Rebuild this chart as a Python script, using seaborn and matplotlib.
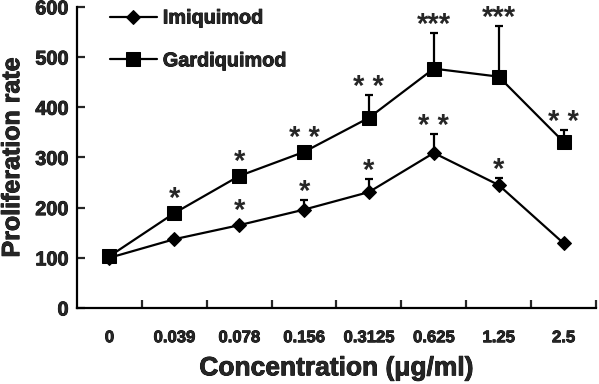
import matplotlib
matplotlib.use("Agg")
import matplotlib.pyplot as plt
import matplotlib.patheffects as pe
import seaborn as sns
import pandas as pd
import numpy as np

concentrations = ["0", "0.039", "0.078", "0.156", "0.3125", "0.625", "1.25", "2.5"]
imiquimod = [100, 137, 165, 196, 231, 309, 245, 129]
imiquimod_err = [0, 4, 4, 19, 26, 38, 15, 4]
gardiquimod = [103, 189, 263, 311, 379, 477, 461, 331]
gardiquimod_err = [0, 4, 4, 6, 45, 72, 101, 23]
imiquimod_stars = ["", "", "*", "*", "*", "* *", "*", ""]
gardiquimod_stars = ["", "*", "*", "* *", "* *", "***", "***", "* *"]
yticks = [0, 100, 200, 300, 400, 500, 600]

sns.set_theme(style="ticks")
plt.rcParams['font.family'] = ['Liberation Sans', 'DejaVu Sans']
plt.rcParams['font.weight'] = 'bold'

heavy = [pe.withStroke(linewidth=0.6, foreground='black')]

pos = np.arange(len(concentrations))
df = pd.DataFrame({
    "pos": np.concatenate([pos, pos]),
    "value": imiquimod + gardiquimod,
    "drug": ["Imiquimod"] * len(pos) + ["Gardiquimod"] * len(pos),
})

fig = plt.figure(figsize=(5.99, 3.84), dpi=100)
ax = fig.add_axes([0.1285, 0.198, 0.8665, 0.784])

for vals, errs in [(imiquimod, imiquimod_err), (gardiquimod, gardiquimod_err)]:
    ax.errorbar(pos, vals, yerr=[np.zeros(len(errs)), errs], fmt='none',
                ecolor='black', elinewidth=1.6, capsize=3, capthick=1.6, zorder=2)

sns.lineplot(data=df, x="pos", y="value", hue="drug", style="drug",
             markers={"Imiquimod": "D", "Gardiquimod": "s"}, dashes=False,
             palette={"Imiquimod": "black", "Gardiquimod": "black"},
             markersize=10, linewidth=1.6, markeredgecolor='black',
             ax=ax, zorder=3)
for line in ax.lines:
    if line.get_marker() == 'D':
        line.set_markersize(7.5)

for vals, errs, stars in [(imiquimod, imiquimod_err, imiquimod_stars),
                          (gardiquimod, gardiquimod_err, gardiquimod_stars)]:
    for p, v, e, s in zip(pos, vals, errs, stars):
        if s:
            ax.annotate(s, (p, v + max(e, 12)), xytext=(0, 0), textcoords='offset points',
                        ha='center', va='baseline', fontsize=21, fontweight='bold')

ax.set_xlim(-0.5, len(concentrations) - 0.5)
ax.set_ylim(0, 600)
ax.set_xticks(pos)
ax.set_xticklabels(concentrations, fontsize=12, fontweight='bold', path_effects=heavy)
ax.set_xticks(np.arange(0.5, len(concentrations), 1.0), minor=True)
ax.tick_params(axis='x', which='major', length=0, pad=16)
ax.tick_params(axis='x', which='minor', direction='in', length=6, width=1.6)
ax.set_yticks(yticks)
ax.set_yticklabels([str(t) for t in yticks], fontsize=14.3, fontweight='bold', path_effects=heavy)
ax.tick_params(axis='y', direction='in', length=6, width=1.6, pad=6)
for side in ['top', 'right']:
    ax.spines[side].set_visible(False)
for side in ['left', 'bottom']:
    ax.spines[side].set_linewidth(1.6)
    ax.spines[side].set_color('black')

ax.set_xlabel("Concentration (\u03bcg/ml)", fontsize=19, fontweight='bold', labelpad=8,
              path_effects=heavy)
ax.set_ylabel("Proliferation rate", fontsize=18, fontweight='bold', labelpad=8,
              path_effects=heavy)

handles, labels = ax.get_legend_handles_labels()
leg = ax.legend(handles, labels, loc='upper left', bbox_to_anchor=(0.056, 1.008),
                frameon=False, fontsize=14.3, handlelength=2.36, handletextpad=0.3,
                labelspacing=1.2, borderaxespad=0, borderpad=0.2)
for t in leg.get_texts():
    t.set_fontweight('bold')
    t.set_path_effects(heavy)

fig.savefig("out.png", dpi=100)
